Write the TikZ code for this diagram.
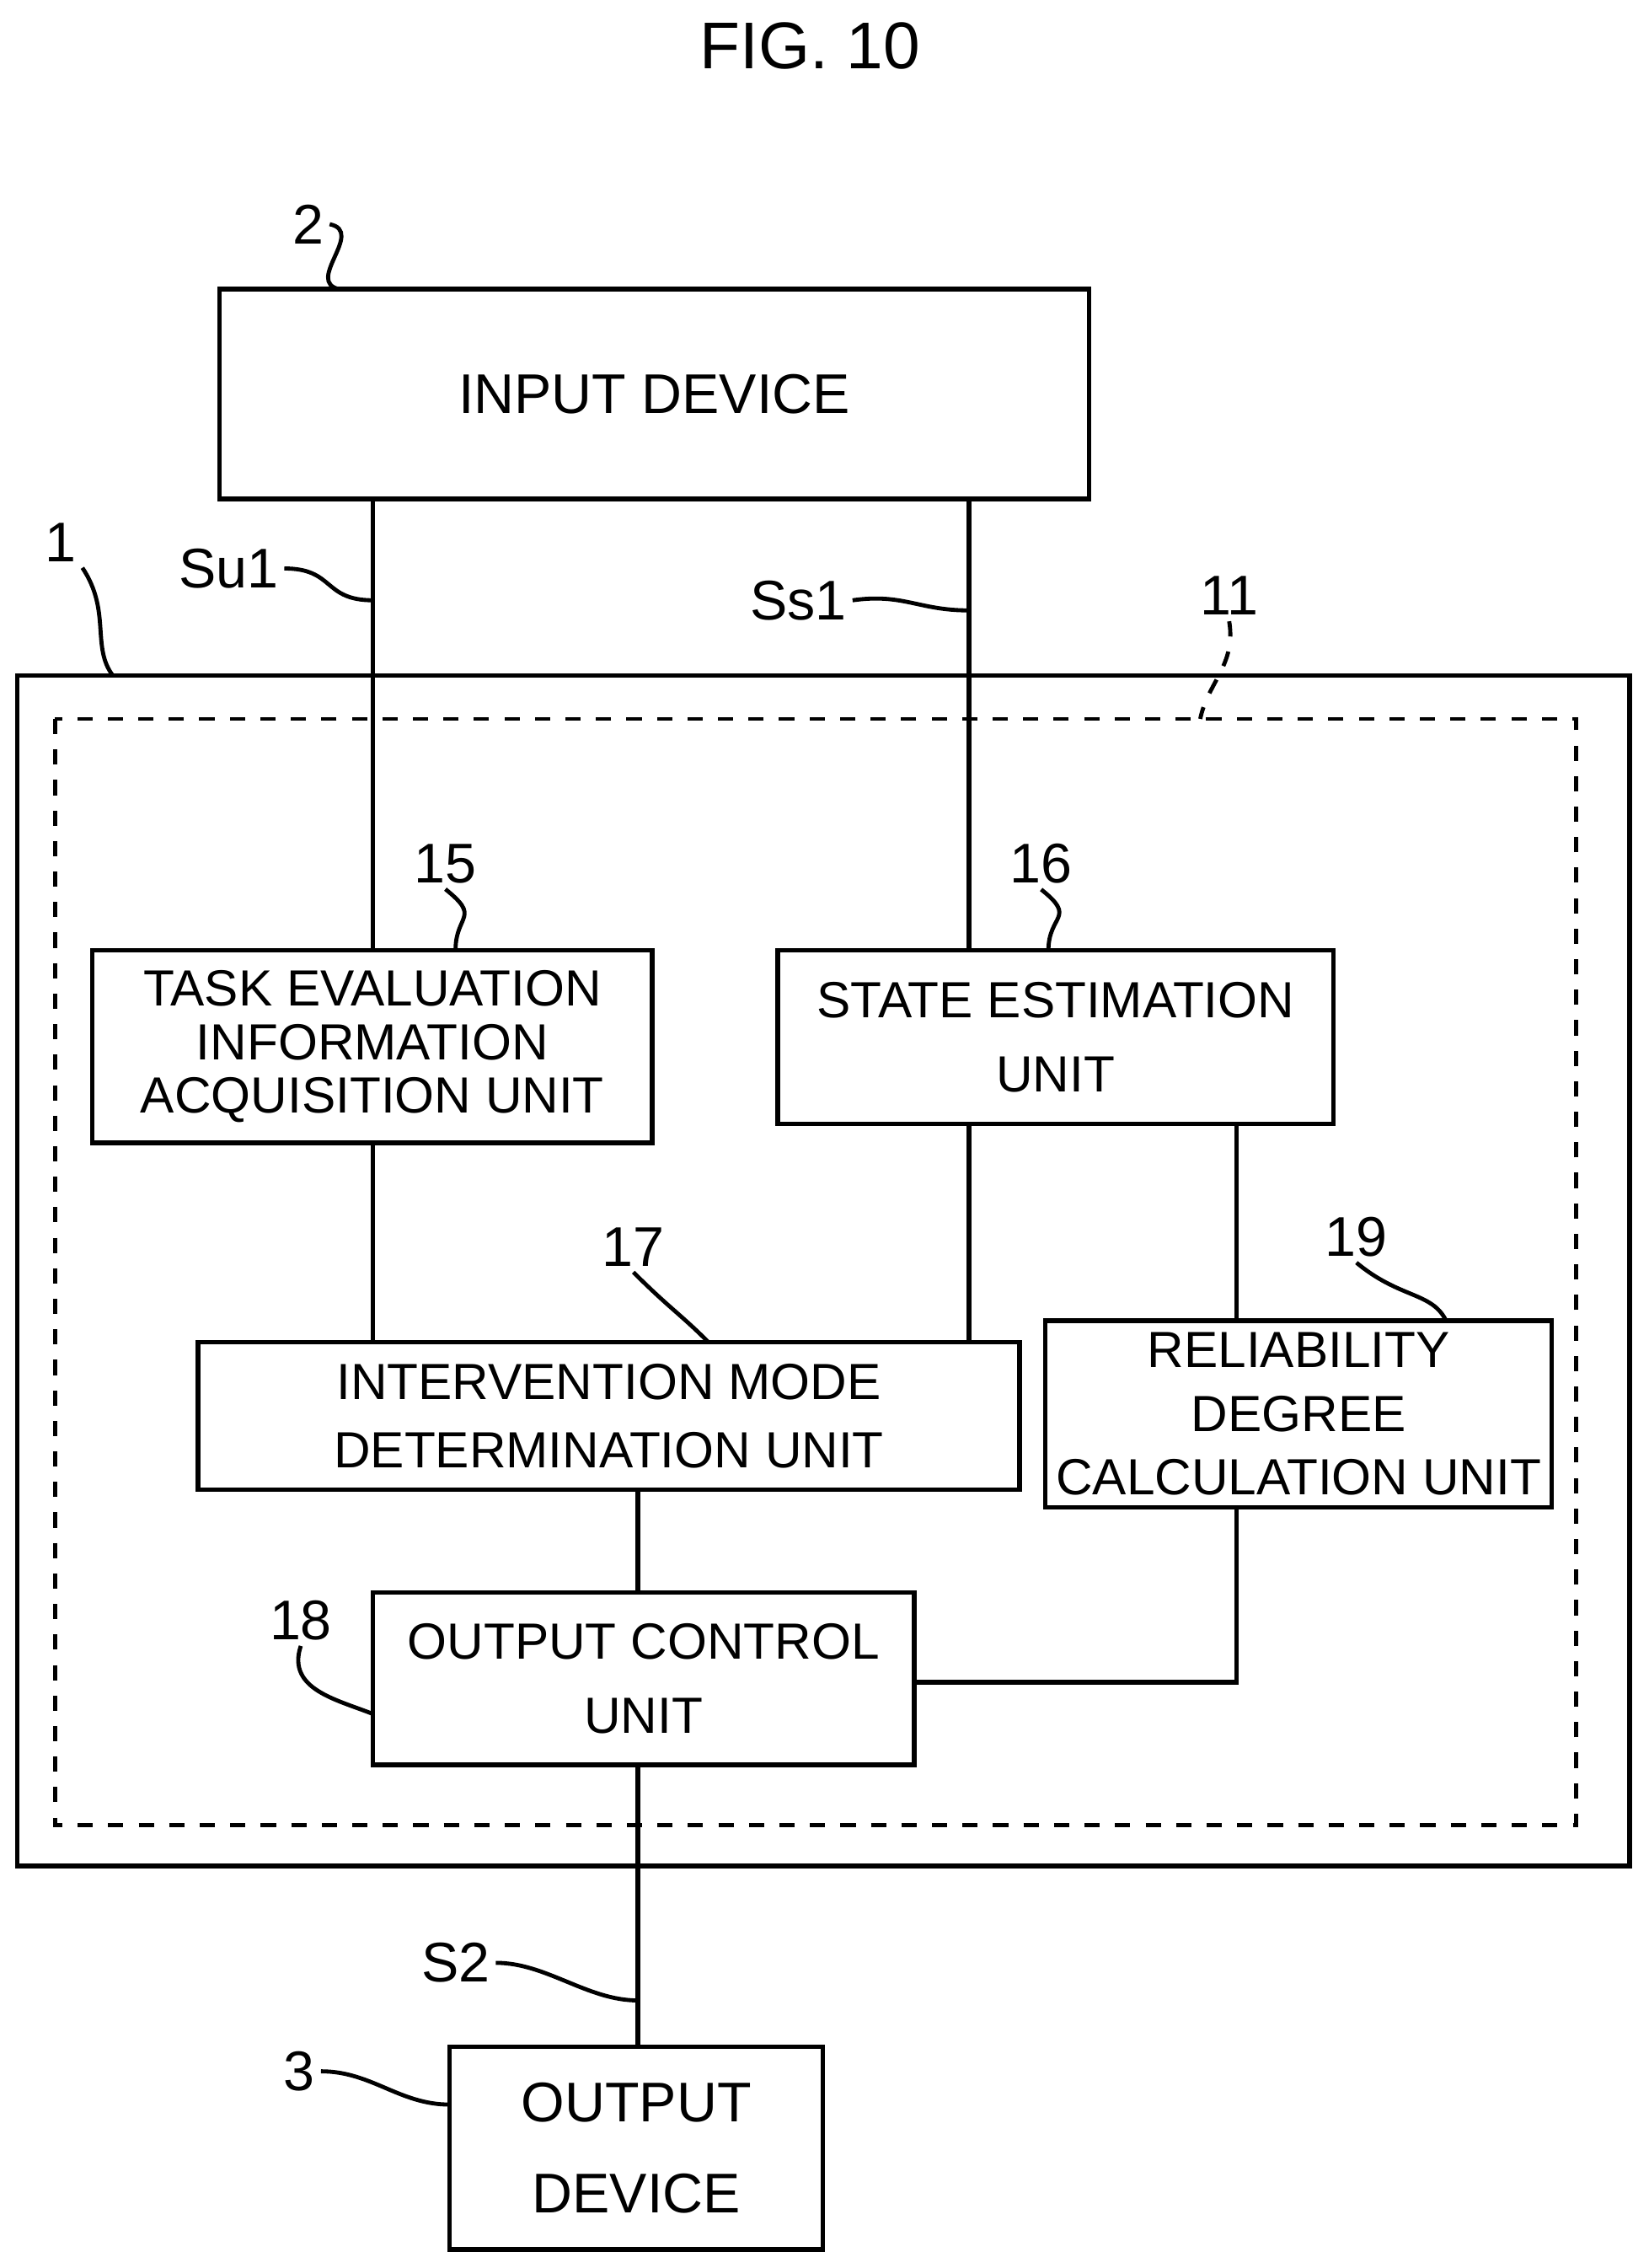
\documentclass[tikz,border=0pt]{standalone}
\usepackage{fontspec}
\setmainfont{Liberation Sans}
\begin{document}
\begin{tikzpicture}[x=0.01cm,y=-0.01cm,
    blk/.style={draw, line width=0.9pt, align=center, inner sep=0pt,
                font=\fontsize{10}{10.5}\selectfont},
    lbl/.style={font=\fontsize{11}{13}\selectfont, inner sep=1pt},
    wire/.style={line width=0.9pt},
    lead/.style={line width=0.8pt}]
    \useasboundingbox (0,0) rectangle (1140,1568);

    % Titel
    \node[font=\fontsize{13}{16}\selectfont] (fig) at (560,32) {FIG. 10};

    % Rahmen
    \draw[line width=0.9pt] (12,467) rectangle (1127,1290);
    \draw[line width=0.8pt, dashed] (38,497) rectangle (1090,1262);

    % Bloecke
    \node[blk, minimum width=6.01cm, minimum height=1.45cm, font=\fontsize{11}{13}\selectfont] (inp) at (452.5,272.5) {INPUT DEVICE};
    \node[blk, minimum width=3.87cm, minimum height=1.33cm] (task) at (257.5,723.5) {TASK EVALUATION\\INFORMATION\\ACQUISITION UNIT};
    \node[blk, minimum width=3.84cm, minimum height=1.2cm] (state) at (730,717) {STATE ESTIMATION\\[4pt]UNIT};
    \node[blk, minimum width=5.68cm, minimum height=1.02cm] (mode) at (421,979) {INTERVENTION MODE\\[3pt]DETERMINATION UNIT};
    \node[blk, minimum width=3.5cm, minimum height=1.29cm] (rel) at (898,977.5) {RELIABILITY\\[2pt]DEGREE\\[2pt]CALCULATION UNIT};
    \node[blk, minimum width=3.74cm, minimum height=1.19cm] (ctl) at (445,1160.5) {OUTPUT CONTROL\\[4pt]UNIT};
    \node[blk, minimum width=2.58cm, minimum height=1.4cm, font=\fontsize{11}{13}\selectfont] (outp) at (440,1485) {OUTPUT\\[5pt]DEVICE};

    % Verbindungen
    \draw[wire] (inp.south -| 258,0) -- (task.north -| 258,0);
    \draw[wire] (inp.south -| 670,0) -- (state.north -| 670,0);
    \draw[wire] (task.south -| 258,0) -- (mode.north -| 258,0);
    \draw[wire] (state.south -| 670,0) -- (mode.north -| 670,0);
    \draw[wire] (state.south -| 855,0) -- (rel.north -| 855,0);
    \draw[wire] (mode.south -| 441,0) -- (ctl.north -| 441,0);
    \draw[wire] (rel.south -| 855,0) -- (855,1163) -- (ctl.east |- 0,1163);
    \draw[wire] (ctl.south -| 441,0) -- (outp.north -| 441,0);

    % Bezugszeichen
    \node[lbl] (n2) at (213,155) {2};
    \draw[lead] (n2.east) .. controls +(25,5) and +(-25,-5) .. (235,200);
    \node[lbl] (n1) at (42,375) {1};
    \draw[lead] (n1.south east) .. controls +(20,30) and +(-15,-20) .. (78,467);
    \node[lbl] (su1) at (158,393) {Su1};
    \draw[lead] (su1.east) .. controls +(35,0) and +(-35,0) .. (258,415);
    \node[lbl] (ss1) at (552,415) {Ss1};
    \draw[lead] (ss1.east) .. controls +(35,-5) and +(-35,0) .. (670,422);
    \node[lbl] (n11) at (850,412) {11};
    \draw[lead, dashed] (n11.south) .. controls +(5,30) and +(5,-25) .. (830,497);
    \node[lbl] (n15) at (308,597) {15};
    \draw[lead] (n15.south) .. controls +(25,20) and +(0,-25) .. (315,657);
    \node[lbl] (n16) at (720,597) {16};
    \draw[lead] (n16.south) .. controls +(25,20) and +(0,-25) .. (725,657);
    \node[lbl] (n17) at (438,862) {17};
    \draw[lead] (n17.south) .. controls +(25,25) and +(-20,-20) .. (490,928);
    \node[lbl] (n19) at (938,855) {19};
    \draw[lead] (n19.south) .. controls +(30,25) and +(-10,-20) .. (1000,913);
    \node[lbl] (n18) at (208,1120) {18};
    \draw[lead] (n18.south) .. controls +(-10,30) and +(-25,-10) .. (258,1185);
    \node[lbl] (s2) at (315,1357) {S2};
    \draw[lead] (s2.east) .. controls +(35,0) and +(-35,0) .. (441,1383);
    \node[lbl] (n3) at (207,1432) {3};
    \draw[lead] (n3.east) .. controls +(35,0) and +(-35,0) .. (311,1455);
\end{tikzpicture}
\end{document}
